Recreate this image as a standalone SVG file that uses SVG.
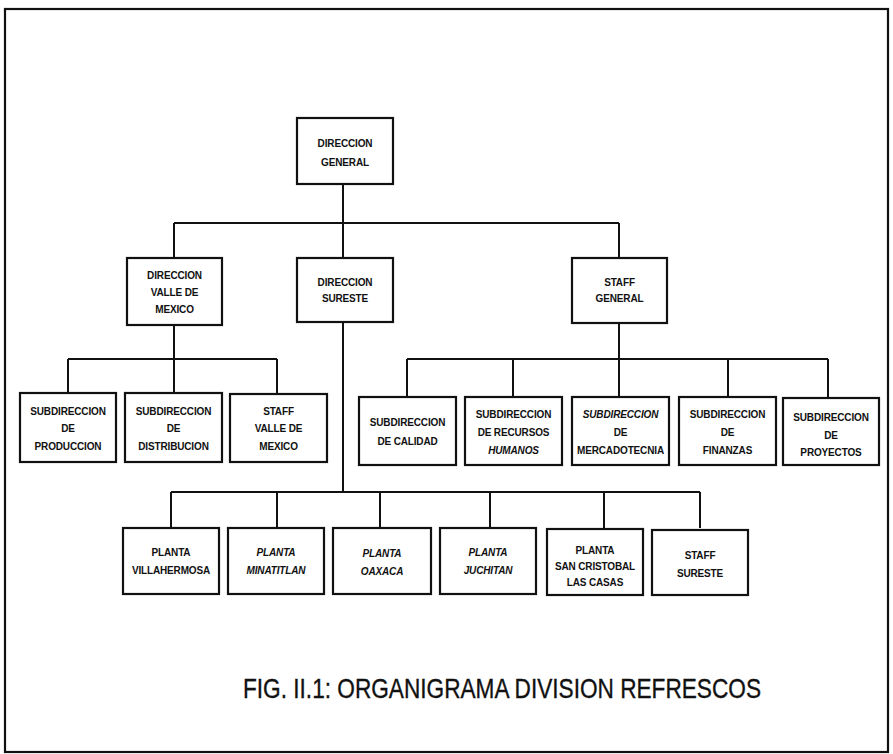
<svg xmlns="http://www.w3.org/2000/svg" width="893" height="754" viewBox="0 0 893 754">
<style>
  .frame{fill:none;stroke:#111;stroke-width:2.2}
  .box{fill:#fff;stroke:#111;stroke-width:2.2}
  .ln{fill:none;stroke:#111;stroke-width:2}
  .t{font-family:"Liberation Sans",Arial,Helvetica,sans-serif;font-size:10px;font-weight:bold;fill:#111;text-anchor:middle;dominant-baseline:central;letter-spacing:-0.15px}
  .i{font-style:italic}
  .title{font-family:"Liberation Sans",Arial,Helvetica,sans-serif;font-size:28px;fill:#111;stroke:#111;stroke-width:0.35;text-anchor:middle}
</style>
<rect x="0" y="0" width="893" height="754" fill="#fff"/>
<rect class="frame" x="5" y="9" width="883" height="743"/>

<g id="connectors">
  <path class="ln" d="M343 184V258 M174 223H619 M174 223V258 M619 223V258"/>
  <path class="ln" d="M174 325V393 M68 359H277 M68 359V393 M277 359V393"/>
  <path class="ln" d="M619 323V397 M407 359H828 M407 359V397 M513 359V397 M728 359V397 M828 359V397"/>
  <path class="ln" d="M343 322V492 M171 492H700 M171 492V528 M277 492V528 M380 492V528 M490 492V528 M604 492V528 M700 492V528"/>
</g>

<g id="direccion-general">
  <rect class="box" x="297" y="118" width="96" height="66"/>
  <text class="t" x="345" y="143">DIRECCION</text>
  <text class="t" x="345" y="162">GENERAL</text>
</g>
<g id="direccion-valle-mexico">
  <rect class="box" x="127" y="258" width="95" height="67"/>
  <text class="t" x="174.5" y="275">DIRECCION</text>
  <text class="t" x="174.5" y="292">VALLE DE</text>
  <text class="t" x="174.5" y="309">MEXICO</text>
</g>
<g id="direccion-sureste">
  <rect class="box" x="297" y="258" width="96" height="64"/>
  <text class="t" x="345" y="282">DIRECCION</text>
  <text class="t" x="345" y="298">SURESTE</text>
</g>
<g id="staff-general">
  <rect class="box" x="572" y="258" width="95" height="65"/>
  <text class="t" x="619.5" y="282">STAFF</text>
  <text class="t" x="619.5" y="298">GENERAL</text>
</g>

<g id="subdireccion-produccion">
  <rect class="box" x="20" y="393" width="96" height="69"/>
  <text class="t" x="68" y="411">SUBDIRECCION</text>
  <text class="t" x="68" y="428">DE</text>
  <text class="t" x="68" y="446">PRODUCCION</text>
</g>
<g id="subdireccion-distribucion">
  <rect class="box" x="125" y="393" width="97" height="69"/>
  <text class="t" x="173.5" y="411">SUBDIRECCION</text>
  <text class="t" x="173.5" y="428">DE</text>
  <text class="t" x="173.5" y="446">DISTRIBUCION</text>
</g>
<g id="staff-valle-mexico">
  <rect class="box" x="230" y="394" width="97" height="68"/>
  <text class="t" x="278.5" y="411">STAFF</text>
  <text class="t" x="278.5" y="428">VALLE DE</text>
  <text class="t" x="278.5" y="446">MEXICO</text>
</g>

<g id="subdireccion-calidad">
  <rect class="box" x="359" y="397" width="97" height="68"/>
  <text class="t" x="407.5" y="422">SUBDIRECCION</text>
  <text class="t" x="407.5" y="441">DE CALIDAD</text>
</g>
<g id="subdireccion-recursos-humanos">
  <rect class="box" x="465" y="397" width="97" height="68"/>
  <text class="t" x="513.5" y="414">SUBDIRECCION</text>
  <text class="t" x="513.5" y="432">DE RECURSOS</text>
  <text class="t i" x="513.5" y="450">HUMANOS</text>
</g>
<g id="subdireccion-mercadotecnia">
  <rect class="box" x="572" y="397" width="97" height="68"/>
  <text class="t i" x="620.5" y="414">SUBDIRECCION</text>
  <text class="t" x="620.5" y="432">DE</text>
  <text class="t" x="620.5" y="450">MERCADOTECNIA</text>
</g>
<g id="subdireccion-finanzas">
  <rect class="box" x="679" y="397" width="97" height="68"/>
  <text class="t" x="727.5" y="414">SUBDIRECCION</text>
  <text class="t" x="727.5" y="432">DE</text>
  <text class="t" x="727.5" y="450">FINANZAS</text>
</g>
<g id="subdireccion-proyectos">
  <rect class="box" x="783" y="398" width="96" height="67"/>
  <text class="t" x="831" y="417">SUBDIRECCION</text>
  <text class="t" x="831" y="435">DE</text>
  <text class="t" x="831" y="452">PROYECTOS</text>
</g>

<g id="planta-villahermosa">
  <rect class="box" x="123" y="528" width="96" height="66"/>
  <text class="t" x="171" y="552">PLANTA</text>
  <text class="t" x="171" y="570">VILLAHERMOSA</text>
</g>
<g id="planta-minatitlan">
  <rect class="box" x="228" y="528" width="96" height="66"/>
  <text class="t i" x="276" y="552">PLANTA</text>
  <text class="t i" x="276" y="570">MINATITLAN</text>
</g>
<g id="planta-oaxaca">
  <rect class="box" x="333" y="528" width="98" height="66"/>
  <text class="t i" x="382" y="553">PLANTA</text>
  <text class="t i" x="382" y="571">OAXACA</text>
</g>
<g id="planta-juchitan">
  <rect class="box" x="440" y="528" width="96" height="66"/>
  <text class="t i" x="488" y="552">PLANTA</text>
  <text class="t i" x="488" y="570">JUCHITAN</text>
</g>
<g id="planta-san-cristobal">
  <rect class="box" x="547" y="529" width="96" height="66"/>
  <text class="t" x="595" y="550">PLANTA</text>
  <text class="t" x="595" y="566">SAN CRISTOBAL</text>
  <text class="t" x="595" y="582">LAS CASAS</text>
</g>
<g id="staff-sureste">
  <rect class="box" x="652" y="530" width="96" height="65"/>
  <text class="t" x="700" y="555">STAFF</text>
  <text class="t" x="700" y="573">SURESTE</text>
</g>

<text class="title" x="502" y="698" textLength="518" lengthAdjust="spacingAndGlyphs">FIG. II.1: ORGANIGRAMA DIVISION REFRESCOS</text>
</svg>
